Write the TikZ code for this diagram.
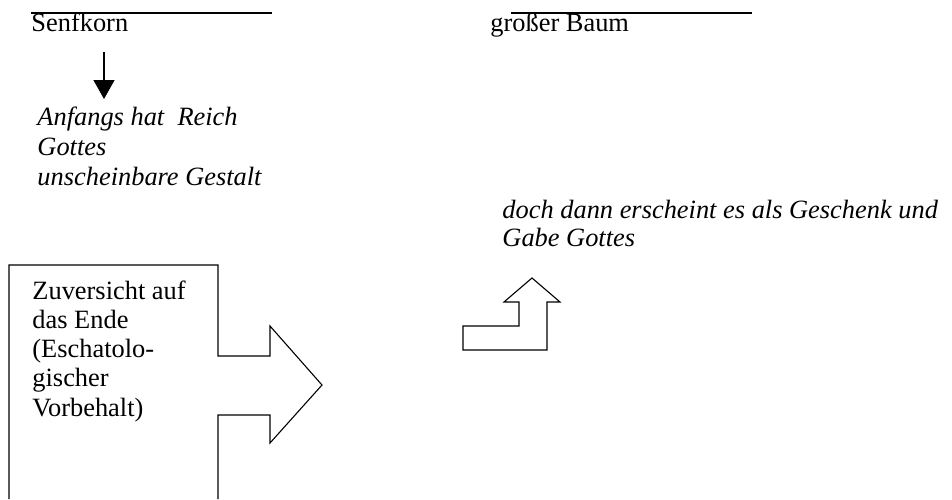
\documentclass[tikz,border=0pt]{standalone}
\usepackage{fontspec}
\setmainfont{Liberation Serif}
\usepackage{tikz}
\usetikzlibrary{arrows.meta,positioning}

\tikzset{
	txt/.style={inner sep=0pt, anchor=base west, align=left, font=\fontsize{12}{13.2}\selectfont},
	itxt/.style={txt, font=\fontsize{12}{13.6}\selectfont\itshape},
	shp/.style={draw, line width=0.5pt, line join=miter},
}

\begin{document}
\begin{tikzpicture}[x=0.4545pt, y=-0.4545pt]
	\useasboundingbox (0,0) rectangle (952,499);
	% Define nodes (multi-line nodes sit on their last baseline)
	\node[txt]  (senf) at (31,31)   {Senfkorn};
	\node[txt]  (baum) at (490,31)  {gro\ss er Baum};
	\node[itxt] (anf)  at (37,185)  {Anfangs hat\ \ Reich\\Gottes\\unscheinbare Gestalt};
	\node[itxt, font=\fontsize{12}{12.7}\selectfont\itshape] (gabe) at (502,246) {doch dann erscheint es als Geschenk und\\Gabe Gottes};
	\node[txt]  (zuv)  at (32,416)  {Zuversicht auf\\das Ende\\(Eschatolo-\\gischer\\Vorbehalt)};
	\coordinate (a1) at (104,52);
	\coordinate (a2) at (104,99);
	% Lines above the words
	\draw[line width=0.6pt] (31,13) -- (272,13);
	\draw[line width=0.6pt] (511,13) -- (752,13);
	% Connect the nodes
	\draw[line width=0.6pt, -{Triangle[width=9.5pt, length=8.6pt]}] (a1) -- (a2);
	% Block arrows
	\draw[shp] (9,499) -- (9,265) -- (218,265) -- (218,356) -- (270,356) -- (270,326)
		-- (322,385) -- (270,443) -- (270,415) -- (218,415) -- (218,499);
	\draw[shp] (463,350) -- (463,326) -- (519,326) -- (519,302) -- (504,302) -- (532,278)
		-- (560,302) -- (547,302) -- (547,350) -- cycle;
\end{tikzpicture}
\end{document}
